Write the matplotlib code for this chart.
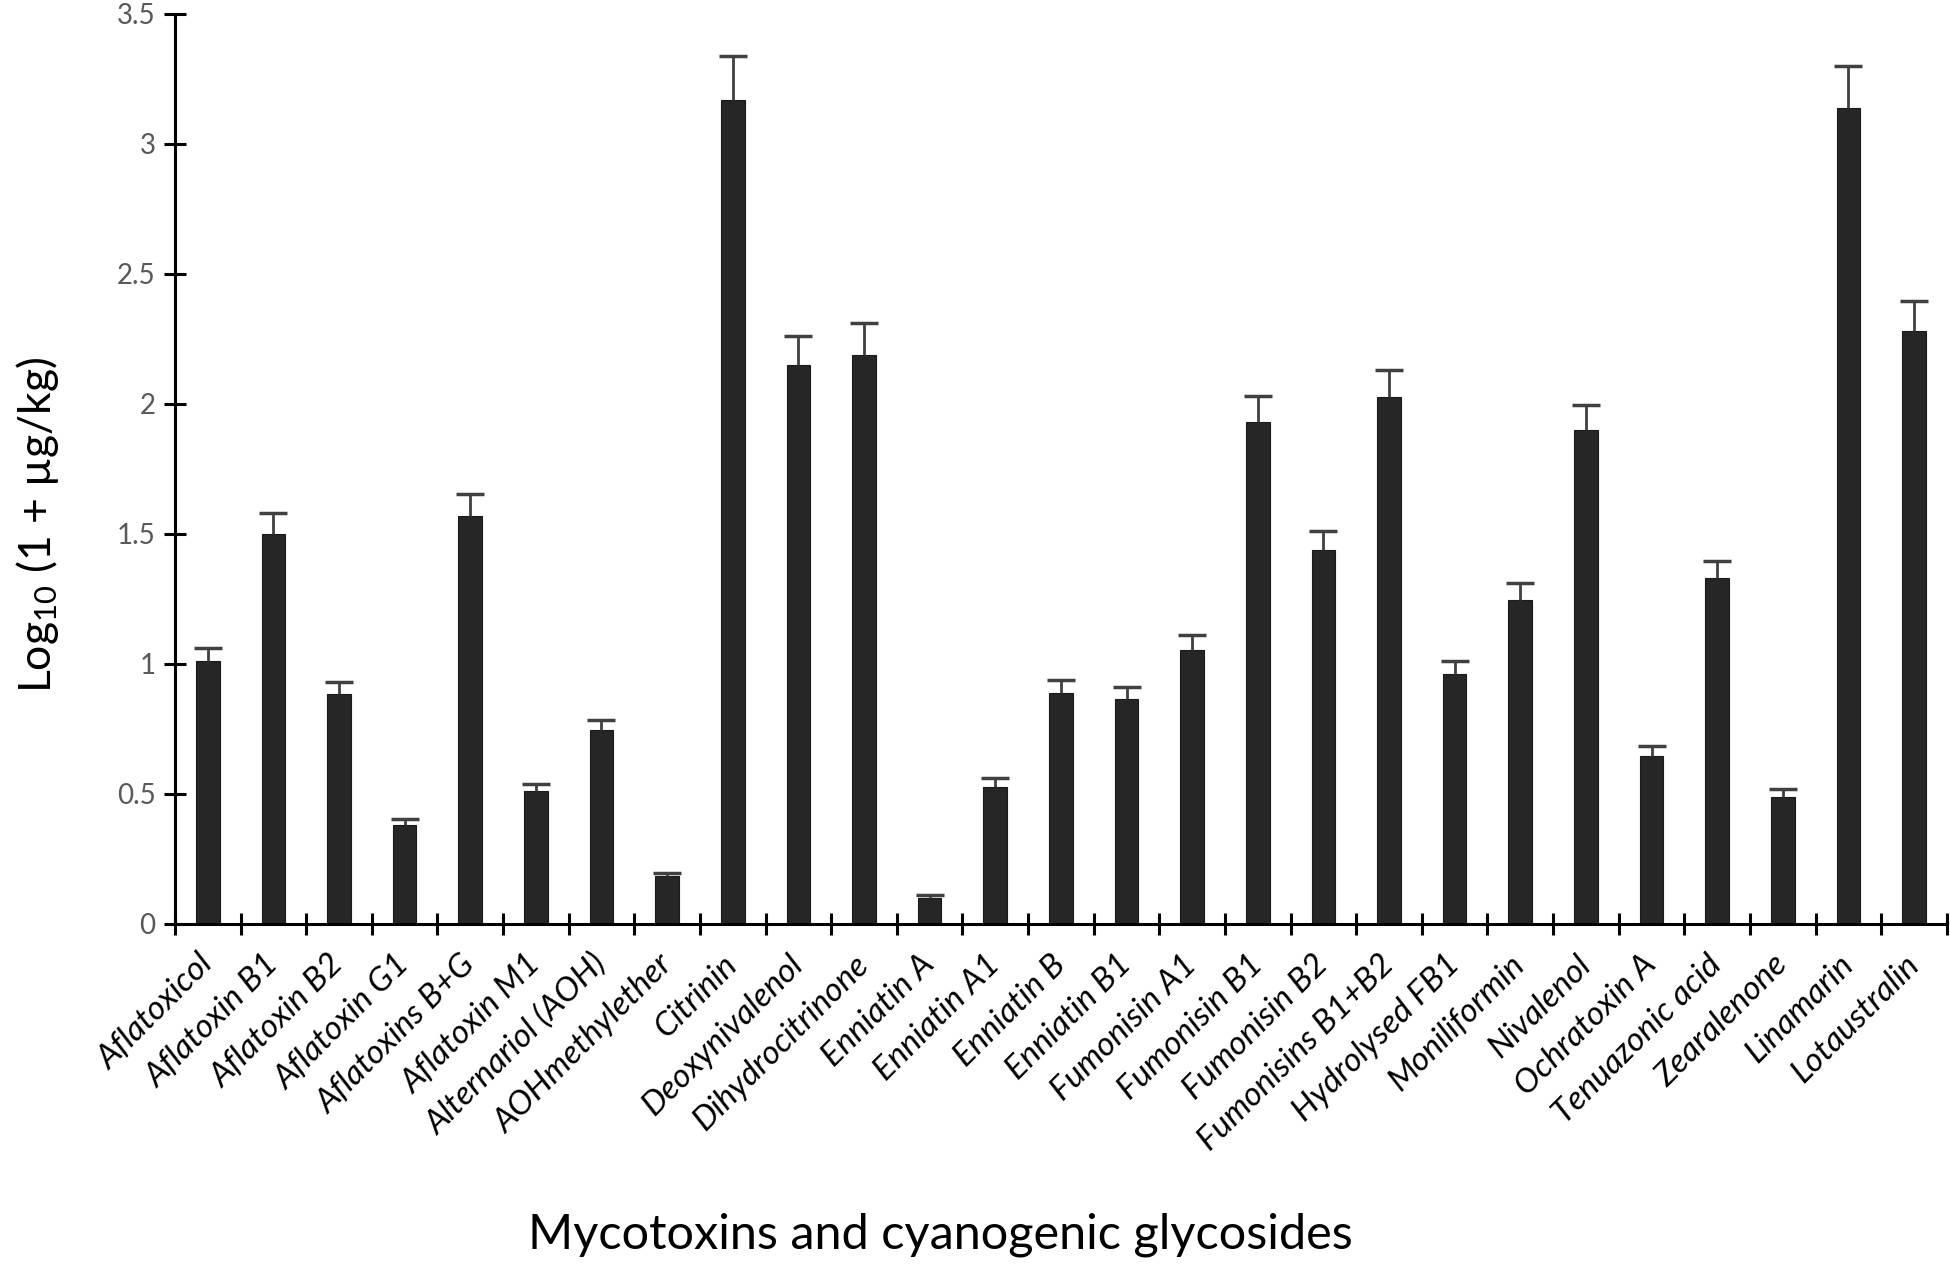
import matplotlib.pyplot as plt
import numpy as np

plt.rcParams['font.family'] = ['Lato', 'DejaVu Sans']
plt.rcParams['mathtext.fontset'] = 'custom'
plt.rcParams['mathtext.rm'] = 'Lato'

# categories and values (log10(1 + ug/kg))
toxins = ['Aflatoxicol', 'Aflatoxin B1', 'Aflatoxin B2', 'Aflatoxin G1',
          'Aflatoxins B+G', 'Aflatoxin M1', 'Alternariol (AOH)', 'AOHmethylether',
          'Citrinin', 'Deoxynivalenol', 'Dihydrocitrinone', 'Enniatin A',
          'Enniatin A1', 'Enniatin B', 'Enniatin B1', 'Fumonisin A1',
          'Fumonisin B1', 'Fumonisin B2', 'Fumonisins B1+B2', 'Hydrolysed FB1',
          'Moniliformin', 'Nivalenol', 'Ochratoxin A', 'Tenuazonic acid',
          'Zearalenone', 'Linamarin', 'Lotaustralin']
means = [1.01, 1.50, 0.885, 0.38, 1.57, 0.51, 0.745, 0.185,
         3.17, 2.15, 2.19, 0.10, 0.525, 0.89, 0.865, 1.055,
         1.93, 1.44, 2.025, 0.96, 1.245, 1.90, 0.645, 1.33,
         0.49, 3.14, 2.28]
errors = [0.05, 0.08, 0.045, 0.025, 0.085, 0.03, 0.04, 0.01,
          0.17, 0.11, 0.12, 0.01, 0.035, 0.05, 0.045, 0.055,
          0.10, 0.07, 0.105, 0.05, 0.065, 0.095, 0.04, 0.065,
          0.03, 0.16, 0.115]
yticks = [0, 0.5, 1, 1.5, 2, 2.5, 3, 3.5]
yticklabels = ['0', '0.5', '1', '1.5', '2', '2.5', '3', '3.5']

fig = plt.figure(figsize=(19.5, 12.64), dpi=100)
ax = fig.add_axes([0.0897, 0.269, 0.9087, 0.720])

x = np.arange(len(toxins))
ax.bar(x, means, width=0.36, color='#262626', edgecolor='#1a1a1a', linewidth=0.8,
       zorder=2)
_, caps, _ = ax.errorbar(x, means, yerr=[np.zeros(len(errors)), errors], fmt='none',
                         ecolor='#404040', elinewidth=2, capsize=10, capthick=2.5,
                         zorder=3)
# only the upper cap is shown
caps[0].set_visible(False)

ax.set_xlim(-0.5, len(toxins) - 0.5)
ax.set_ylim(0, 3.5)

for side in ['top', 'right']:
    ax.spines[side].set_visible(False)
for side in ['left', 'bottom']:
    ax.spines[side].set_linewidth(2.2)
    ax.spines[side].set_color('black')

ax.set_yticks(yticks)
ax.set_yticklabels(yticklabels)
ax.tick_params(axis='y', direction='inout', length=16, width=2.2,
               labelsize=20, labelcolor='#595959', pad=6)

ax.set_xticks(x)
ax.set_xticklabels(toxins, rotation=45, ha='right', va='center',
                   rotation_mode='anchor', style='italic')
ax.set_xticks(np.arange(-0.5, len(toxins), 1.0), minor=True)
ax.tick_params(axis='x', which='major', length=0, labelsize=24, pad=26)
ax.tick_params(axis='x', which='minor', direction='inout', length=16, width=2.2)

fig.text(0.019, 0.585, r'Log$\mathregular{_{10}}$ (1 + µg/kg)', fontsize=32,
         rotation=90, ha='center', va='center')
fig.text(0.482, 0.023, 'Mycotoxins and cyanogenic glycosides', fontsize=35,
         ha='center', va='center')

fig.savefig('out.png', dpi=100, facecolor='white')
